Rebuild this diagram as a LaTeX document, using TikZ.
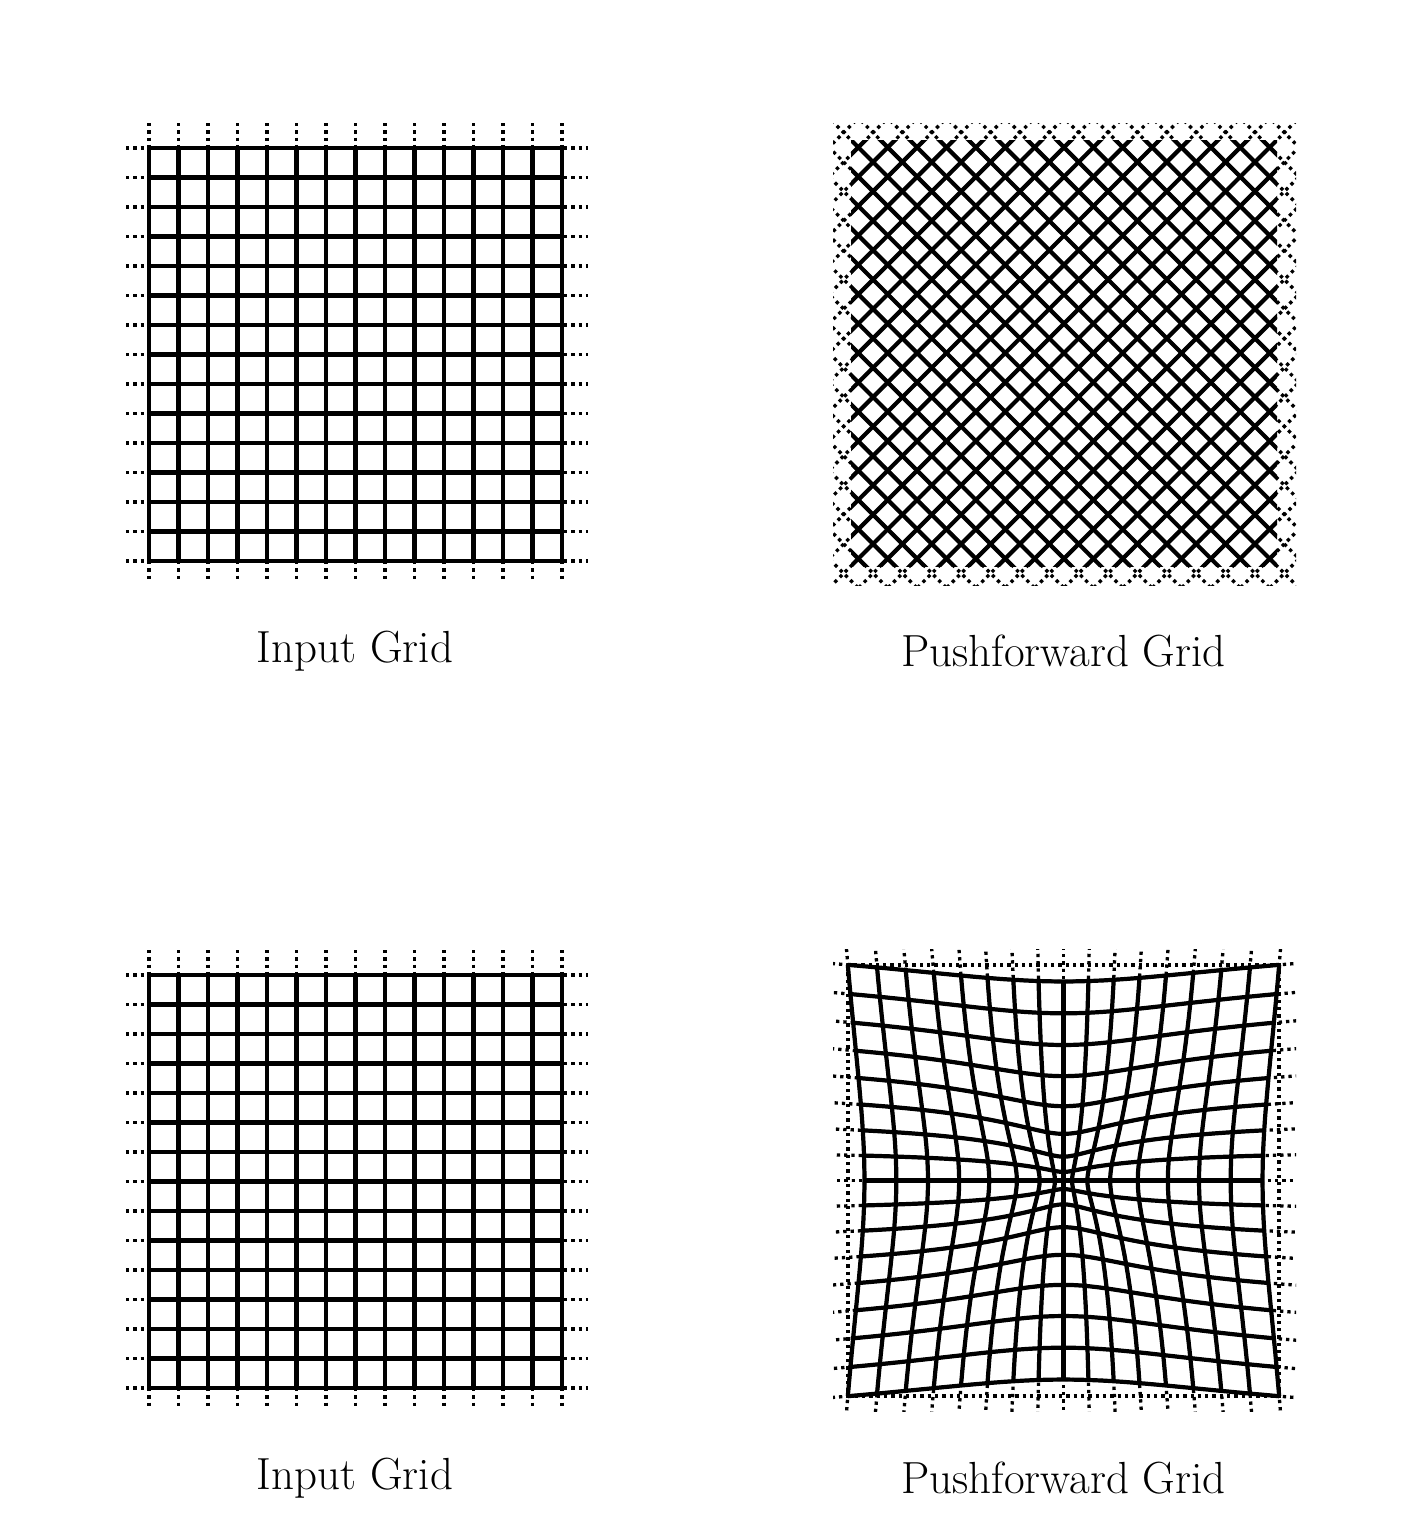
\documentclass[tikz,border=0pt]{standalone}
\begin{document}
\begin{tikzpicture}[x=0.5pt,y=-0.5pt,
  gridline/.style={line width=2.1pt},
  dotline/.style={line width=1.65pt, dash pattern=on 1.65pt off 2pt},
  lbl/.style={font=\fontsize{22.5}{26}\selectfont, anchor=base},
  declare function={Gf(\r)=1-0.223*tanh(min(\r/0.286,4))/max(\r,0.02);}
]
\useasboundingbox (0,0) rectangle (1418,1537);

% ---------- input grids (top-left and bottom-left) ----------
\foreach \oy in {148,975} {
  \foreach \k in {0,...,14} {
    \pgfmathsetmacro\p{149+29.5*\k}
    \pgfmathsetmacro\q{\oy+29.5*\k}
    \draw[dotline] (\p,\oy-25) -- (\p,\oy+434);
    \draw[dotline] (126,\q) -- (588,\q);
  }
  \foreach \k in {0,...,14} {
    \pgfmathsetmacro\p{149+29.5*\k}
    \pgfmathsetmacro\q{\oy+29.5*\k}
    \draw[gridline] (\p,\oy) -- (\p,\oy+413);
    \draw[gridline] (149,\q) -- (562,\q);
  }
}

% ---------- pushforward grid (top-right): diagonal lattice ----------
\begin{scope}
  \clip (833,123) rectangle (1296,585);
  \foreach \k in {-16,...,16} {
    \pgfmathsetmacro\c{711+29.379*\k}
    \draw[dotline] (\c+100,100) -- (\c+610,610);
    \pgfmathsetmacro\d{1417+29.379*\k}
    \draw[dotline] (\d-100,100) -- (\d-610,610);
  }
\end{scope}
\begin{scope}
  \clip (851,140) rectangle (1277,566);
  \foreach \k in {-16,...,16} {
    \pgfmathsetmacro\c{711+29.379*\k}
    \draw[gridline] (\c+100,100) -- (\c+610,610);
    \pgfmathsetmacro\d{1417+29.379*\k}
    \draw[gridline] (\d-100,100) -- (\d-610,610);
  }
\end{scope}

% ---------- pushforward grid (bottom-right): radial contraction ----------
\begin{scope}
  \clip (833,949.5) rectangle (1296,1411.5);
  \foreach \k in {-8,...,8} {
    \pgfmathsetmacro\u{\k/8}
    \draw[dotline] plot[domain=-1.25:1.25, samples=51, variable=\t]
      ({1063.5+256*(\u)*Gf(sqrt((\u)*(\u)+(\t)*(\t)))},
       {1180.5+256*(\t)*Gf(sqrt((\u)*(\u)+(\t)*(\t)))});
    \draw[dotline] plot[domain=-1.25:1.25, samples=51, variable=\t]
      ({1063.5+256*(\t)*Gf(sqrt((\u)*(\u)+(\t)*(\t)))},
       {1180.5+256*(\u)*Gf(sqrt((\u)*(\u)+(\t)*(\t)))});
  }
\end{scope}
\draw[dotline] (847.9,964.9) rectangle (1279.1,1396.1);
\foreach \k in {-8,...,8} {
  \pgfmathsetmacro\u{\k/8}
  \draw[gridline, line join=round] plot[domain=-1:1, samples=41, variable=\t]
    ({1063.5+256*(\u)*Gf(sqrt((\u)*(\u)+(\t)*(\t)))},
     {1180.5+256*(\t)*Gf(sqrt((\u)*(\u)+(\t)*(\t)))});
  \draw[gridline, line join=round] plot[domain=-1:1, samples=41, variable=\t]
    ({1063.5+256*(\t)*Gf(sqrt((\u)*(\u)+(\t)*(\t)))},
     {1180.5+256*(\u)*Gf(sqrt((\u)*(\u)+(\t)*(\t)))});
}

% ---------- labels ----------
\node[lbl] (l1) at (355,662) {Input Grid};
\node[lbl] (l2) at (1063.5,666) {Pushforward Grid};
\node[lbl] (l3) at (355,1489) {Input Grid};
\node[lbl] (l4) at (1063.5,1493) {Pushforward Grid};
\end{tikzpicture}
\end{document}
